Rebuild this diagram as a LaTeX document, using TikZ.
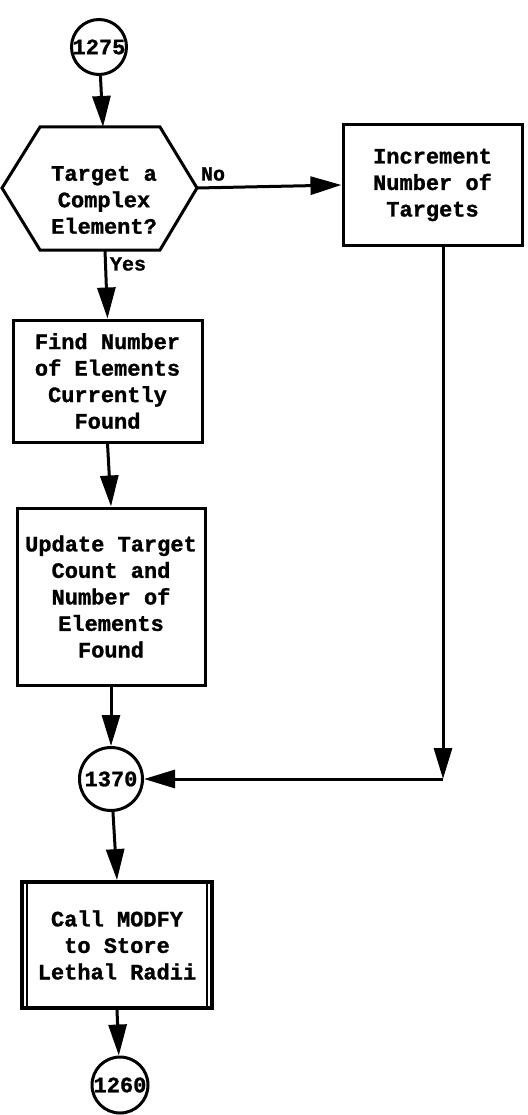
\documentclass[tikz,border=0pt]{standalone}
\usepackage{fontspec}
\newfontfamily\twfont{Liberation Mono Bold}[FakeBold=1.2]
\newcommand{\boxfont}{\twfont\fontsize{22}{26.5}\selectfont}
\newcommand{\lblfont}{\twfont\fontsize{20}{24}\selectfont}
\usetikzlibrary{arrows.meta,calc}
\tikzset{
  ln/.style={line width=3pt},
  arr/.style={ln,-{Triangle[length=31pt,width=18pt]}},
  proc/.style={draw,ln,align=center,inner sep=0pt,font=\boxfont},
  conn/.style={draw,circle,ln,inner sep=0pt,font=\boxfont},
  lbl/.style={font=\lblfont,inner sep=0pt},
  txt/.style={align=center,inner sep=0pt,font=\boxfont}
}
\begin{document}
\begin{tikzpicture}[x=1pt,y=-1pt]
\useasboundingbox (0,0) rectangle (527,1115);

% connector 1275
\node[conn,minimum size=55pt] (c1275) at (99,47) {1275};

% hexagon decision
\coordinate (hexT) at (103,127);
\coordinate (hexB) at (105,250);
\coordinate (hexE) at (197,188);
\coordinate (hexW) at (2,188);
\draw[ln,line join=miter] (hexW) -- (40,127) -- (hexT) -- (160,127) -- (hexE) -- (160,250) -- (hexB) -- (40,250) -- cycle;
\node[txt] (hex) at (104,200) {Target a\\Complex\\Element?};

% increment box
\node[proc,minimum width=179pt,minimum height=120pt] (inc) at (432.5,185) {Increment\\Number of\\Targets};

% find box
\node[proc,minimum width=189pt,minimum height=122pt] (find) at (107.5,381) {Find Number\\of Elements\\Currently\\Found};

% update box
\node[proc,minimum width=188pt,minimum height=177pt] (upd) at (111,596.5) {Update Target\\Count and\\Number of\\Elements\\Found};

% connector 1370
\node[conn,minimum size=63pt] (c1370) at (111,779) {1370};

% call box (predefined process)
\node[proc,line width=3.8pt,minimum width=190pt,minimum height=126pt] (call) at (117,945) {Call MODFY\\to Store\\Lethal Radii};
\draw[line width=1.5pt] ($(call.north west)+(7,0)$) -- ($(call.south west)+(7,0)$);
\draw[line width=1.5pt] ($(call.north east)+(-7,0)$) -- ($(call.south east)+(-7,0)$);

% connector 1260
\node[conn,minimum size=56pt] (c1260) at (120,1085) {1260};

% connectors
\draw[arr] (c1275) -- (hexT);
\draw[arr] (hexE) -- (inc.west);
\node[lbl] (no) at (213,174) {No};
\draw[arr] (hexB) -- (find.north);
\node[lbl] (yes) at (128,264) {Yes};
\draw[arr] (find.south) -- (upd.north);
\draw[arr] (upd.south) -- (c1370);
\coordinate (corner) at (443,779);
\draw[arr] (inc.south -| corner) -- (corner);
\draw[arr] (corner) -- (c1370);
\draw[arr] (c1370) -- (call.north);
\draw[arr] (call.south) -- (c1260);
\end{tikzpicture}
\end{document}
